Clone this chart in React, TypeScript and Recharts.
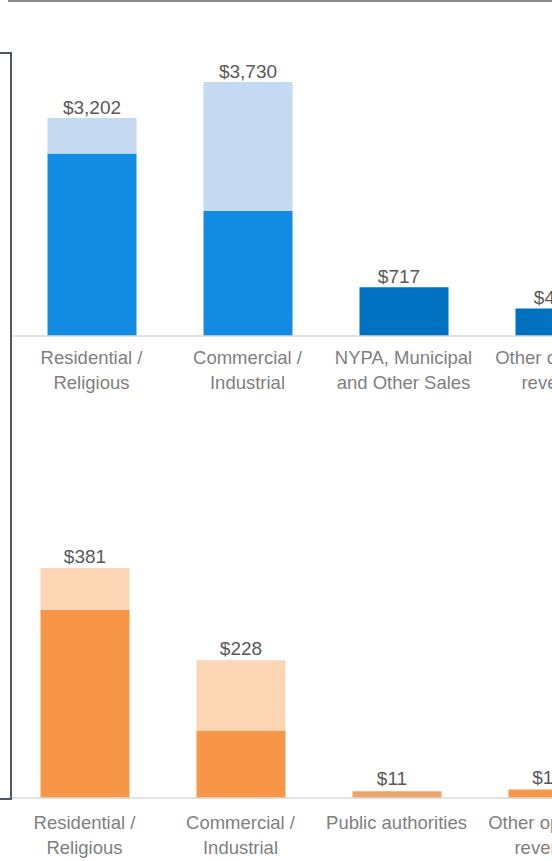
import { BarChart, Bar, XAxis, YAxis, Cell, LabelList } from "recharts";

// Electric revenues (top, $ millions)
const elecCategories = [
  ["Residential /", "Religious"],
  ["Commercial /", "Industrial"],
  ["NYPA, Municipal", "and Other Sales"],
  ["Other operating", "revenues"],
];
const elecBase = [2680, 1840, 717, 405];
const elecUpper = [522, 1890, 0, 0];
const elecTotal = [3202, 3730, 717, 405];

// Gas revenues (bottom, $ millions)
const gasCategories = [
  ["Residential /", "Religious"],
  ["Commercial /", "Industrial"],
  ["Public authorities", ""],
  ["Other operating", "revenues"],
];
const gasBase = [312, 112, 11, 14];
const gasUpper = [69, 116, 0, 0];
const gasTotal = [381, 228, 11, 14];

const elecBaseColors = ["#128BE2", "#128BE2", "#0070C0", "#0070C0"];
const gasBaseColors = ["#F79646", "#F79646", "#EDA46A", "#F79646"];

const FONT = "'Liberation Sans', Arial, sans-serif";

const elecData = elecCategories.map((c, i) => ({
  name: c.join("|"),
  base: elecBase[i],
  upper: elecUpper[i],
  total: elecTotal[i],
}));

const gasData = gasCategories.map((c, i) => ({
  name: c.join("|"),
  base: gasBase[i],
  upper: gasUpper[i],
  total: gasTotal[i],
}));

const money = (v: any) => `$${Number(v).toLocaleString("en-US")}`;

const makeTick = (shift: number) => (props: any) => {
  const { x, y, payload } = props;
  const lines = String(payload.value).split("|");
  return (
    <g>
      {lines.map((line, i) => (
        <text
          key={i}
          x={x}
          y={y + 27.5 + shift + i * 25}
          textAnchor="middle"
          fill="#7F7F7F"
          fontSize={18.5}
          fontFamily={FONT}
        >
          {line}
        </text>
      ))}
    </g>
  );
};

// total label drawn on the top of the base bar, only where there is no upper part
const baseLabel = (uppers: number[], totals: number[], offset: number) => (props: any) => {
  const { x, y, width, index } = props;
  if (uppers[index] !== 0) return null;
  return (
    <text
      x={x + width / 2 - 5}
      y={y - offset}
      textAnchor="middle"
      fill="#595959"
      fontSize={19}
      fontFamily={FONT}
    >
      {money(totals[index])}
    </text>
  );
};

export default function App() {
  return (
    <div
      style={{
        position: "fixed",
        left: 0,
        top: 0,
        width: 552,
        height: 861,
        overflow: "hidden",
        background: "#fff",
      }}
    >
      {/* top chart: electric */}
      <div style={{ position: "absolute", left: 0, top: 0 }}>
        <BarChart
          width={660}
          height={420}
          data={elecData}
          margin={{ top: 63.6, left: 13.5, right: 22.5, bottom: 14 }}
        >
          <YAxis hide domain={[0, 4000]} />
          <XAxis
            dataKey="name"
            height={70}
            axisLine={{ stroke: "#D9D9D9", strokeWidth: 1.5 }}
            tickLine={false}
            tickSize={0}
            tickMargin={0}
            interval={0}
            tick={makeTick(0)}
          />
          <Bar dataKey="base" stackId="a" barSize={89} isAnimationActive={false}>
            {elecData.map((_, i) => (
              <Cell key={i} fill={elecBaseColors[i]} />
            ))}
            <LabelList dataKey="total" content={baseLabel(elecUpper, elecTotal, 4)} />
          </Bar>
          <Bar dataKey="upper" stackId="a" barSize={89} fill="#C5D9F1" isAnimationActive={false}>
            <LabelList
              dataKey="total"
              position="top"
              offset={4}
              formatter={money}
              fill="#595959"
              fontSize={19}
              fontFamily={FONT}
            />
          </Bar>
        </BarChart>
      </div>

      {/* bottom chart: gas */}
      <div style={{ position: "absolute", left: 0, top: 440 }}>
        <BarChart
          width={660}
          height={420}
          data={gasData}
          margin={{ top: 116.5, left: 6.5, right: 29.5, bottom: 6 }}
        >
          <YAxis hide domain={[0, 400]} />
          <XAxis
            dataKey="name"
            height={56}
            axisLine={{ stroke: "#D9D9D9", strokeWidth: 1.5 }}
            tickLine={false}
            tickSize={0}
            tickMargin={0}
            interval={0}
            tick={makeTick(3)}
          />
          <Bar dataKey="base" stackId="a" barSize={89} isAnimationActive={false}>
            {gasData.map((_, i) => (
              <Cell key={i} fill={gasBaseColors[i]} />
            ))}
            <LabelList dataKey="total" content={baseLabel(gasUpper, gasTotal, 6)} />
          </Bar>
          <Bar dataKey="upper" stackId="a" barSize={89} fill="#FCD5B4" isAnimationActive={false}>
            <LabelList
              dataKey="total"
              position="top"
              offset={5}
              formatter={money}
              fill="#595959"
              fontSize={19}
              fontFamily={FONT}
            />
          </Bar>
        </BarChart>
      </div>

      {/* slide frame pieces */}
      <div style={{ position: "absolute", left: 8, top: 0, width: 544, height: 2, background: "#8C8C8C" }} />
      <div style={{ position: "absolute", left: 10, top: 52, width: 2, height: 748, background: "#4E5862" }} />
      <div style={{ position: "absolute", left: 0, top: 52, width: 12, height: 2, background: "#4E5862" }} />
      <div style={{ position: "absolute", left: 0, top: 798, width: 12, height: 2, background: "#4E5862" }} />
    </div>
  );
}
